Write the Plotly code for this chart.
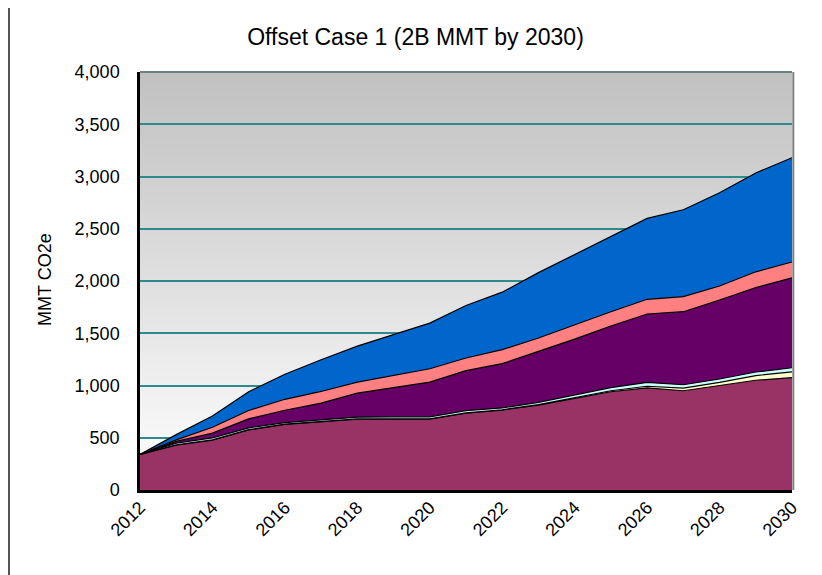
import plotly.graph_objects as go

years = list(range(2012, 2031))
maroon = [340, 430, 478, 574, 628, 653, 677, 679, 679, 735, 765, 813, 877, 940, 978, 950, 1000, 1050, 1075]
yellow = [0, 3, 3, 3, 3, 3, 3, 3, 3, 3, 3, 4, 6, 10, 15, 25, 30, 45, 55]
cyan = [0, 16, 18, 18, 14, 16, 17, 18, 18, 22, 17, 22, 26, 30, 36, 32, 32, 34, 40]
purple = [0, 16, 45, 86, 118, 160, 230, 282, 333, 382, 424, 488, 535, 589, 655, 699, 756, 809, 860]
salmon = [0, 15, 57, 80, 105, 111, 105, 115, 127, 121, 134, 128, 137, 137, 141, 144, 134, 150, 152]
blue = [0, 50, 107, 180, 240, 304, 345, 390, 437, 502, 550, 625, 673, 721, 774, 832, 893, 946, 998]

series = [
    ("Series 1", maroon, "#993366"),
    ("Series 2", yellow, "#FFFFCC"),
    ("Series 3", cyan, "#CCFFFF"),
    ("Series 4", purple, "#660066"),
    ("Series 5", salmon, "#FF8080"),
    ("Series 6", blue, "#0066CC"),
]

W, H = 822, 575
OFF = 8  # page body margin offset
L, R, T, B = 140 - OFF, 792 - OFF, 72 - OFF, 490 - OFF

fig = go.Figure()
for name, vals, col in series:
    fig.add_trace(go.Scatter(
        x=years, y=vals, name=name, mode="lines", stackgroup="one",
        fillcolor=col, line=dict(color="black", width=1.2), hoverinfo="x+y"))

def px(xp):
    return (xp - L) / (R - L)

def py(yp):
    return (B - yp) / (B - T)

shapes = []
n = 60
for i in range(n):
    frac0 = i / n
    frac1 = (i + 1) / n
    c = int(round(192 + (255 - 192) * (1 - (frac0 + frac1) / 2)))
    shapes.append(dict(type="rect", xref="paper", yref="paper",
                       x0=0, x1=1, y0=frac0, y1=min(frac1 + 0.002, 1),
                       fillcolor=f"rgb({c},{c},{c})", line=dict(width=0), layer="below"))
shapes.append(dict(type="line", xref="paper", yref="paper", x0=0, x1=1, y0=1, y1=1,
                   line=dict(color="#6F8080", width=2), layer="above"))
shapes.append(dict(type="line", xref="paper", yref="paper", x0=1.002, x1=1.002, y0=0, y1=1,
                   line=dict(color="#808080", width=2), layer="above"))
shapes.append(dict(type="line", xref="paper", yref="paper", x0=px(1), x1=px(1),
                   y0=py(-5), y1=py(H + 5), line=dict(color="#555555", width=2)))

fig.update_layout(
    width=W, height=H,
    margin=dict(l=L, r=W - R, t=T, b=H - B),
    paper_bgcolor="white", plot_bgcolor="white",
    showlegend=False,
    font=dict(family="Liberation Sans, Arial, sans-serif", color="black", size=18),
    title=dict(text="Offset Case 1 (2B MMT by 2030)", x=(415.5 - OFF) / W, xanchor="center",
               y=1 - (37 - OFF) / H, yanchor="middle", font=dict(size=23)),
    shapes=shapes,
    annotations=[dict(text="MMT CO2e", xref="paper", yref="paper",
                      x=px(45 - OFF), y=py(280 - OFF), textangle=-90,
                      xanchor="center", yanchor="middle", showarrow=False,
                      font=dict(size=18))],
)
fig.update_xaxes(range=[2012, 2030], tickvals=list(range(2012, 2031, 2)),
                 tickangle=-45, showgrid=False, zeroline=False,
                 showline=True, linecolor="black", linewidth=3,
                 ticks="", ticklabelstandoff=-3, tickfont=dict(size=18))
fig.update_yaxes(range=[0, 4000], dtick=500, tickformat=",",
                 showgrid=True, gridcolor="#2E8B8B", gridwidth=1.5,
                 zeroline=False, showline=True, linecolor="black", linewidth=2.5,
                 ticks="", ticklabelstandoff=14, tickfont=dict(size=18))

fig.write_html("out.html")
